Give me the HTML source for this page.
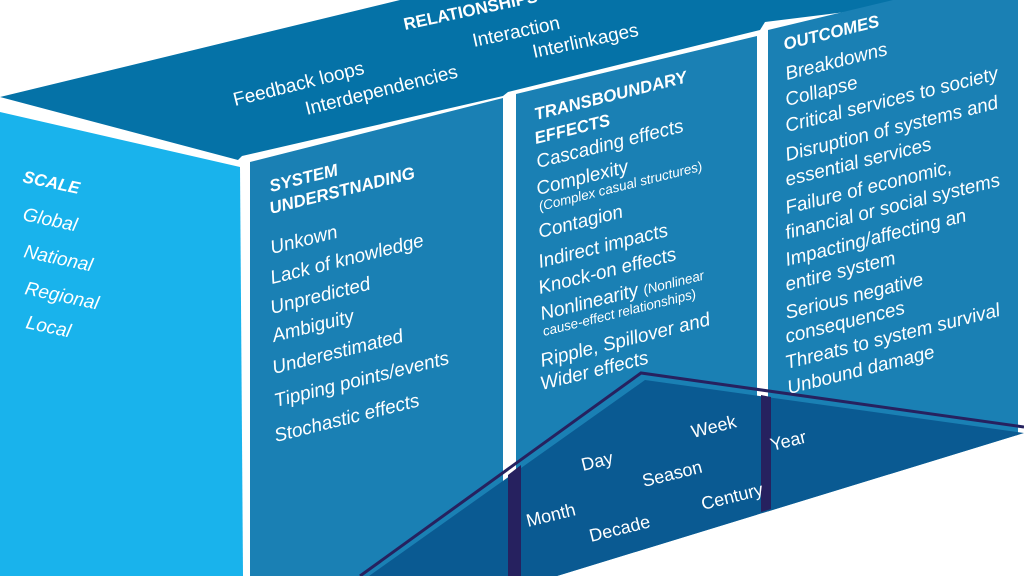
<!DOCTYPE html>
<html><head><meta charset="utf-8"><style>
html,body{margin:0;padding:0;background:#fff;width:1024px;height:576px;overflow:hidden}
svg{display:block}
text{font-family:"Liberation Sans",sans-serif;fill:#fff}
.i{font-size:19px;font-style:italic}
.s{font-size:13.5px;font-style:italic}
.b{font-size:17px;font-weight:bold;font-style:italic}
.t{font-size:17px;font-weight:bold}
.top{font-size:19px}
.tm{font-size:18px}
</style></head><body>
<svg width="1024" height="576" viewBox="0 0 1024 576">
<polygon points="0,97 400,0 1024,-60 1024,-10 765,22 760,30 508,92 503,96 242,156 238,160" fill="#0572a7"/>
<polygon points="0,112 240,167 243,576 0,576" fill="#19b3ec"/>
<polygon points="250,162 503,98 503,576 250,576" fill="#1a80b4"/>
<polygon points="516,94 757,36 757,576 516,576" fill="#1a80b4"/>
<polygon points="768,30 1018,-30 1018,576 768,576" fill="#1a80b4"/>
<polygon points="557,576 1024,433 1024,576" fill="#fff"/>
<polygon points="369,576 645,380 1024,433 557,576" fill="#0a5a92"/>
<polygon points="508,475 521,465 521,576 508,576" fill="#26215f"/>
<polygon points="761,395 771,397 771,509 761,512" fill="#26215f"/>
<polyline points="360,576 641,373 1024,427" fill="none" stroke="#26215f" stroke-width="3"/>

<text class="t" x="405" y="30" transform="rotate(-12 405 30)">RELATIONSHIPS</text>
<text class="top" x="474" y="47" transform="rotate(-12 474 47)">Interaction</text>
<text class="top" x="534" y="58" transform="rotate(-12 534 58)">Interlinkages</text>
<text class="top" x="235" y="106" transform="rotate(-14 235 106)">Feedback loops</text>
<text class="top" x="307" y="115" transform="rotate(-14 307 115)">Interdependencies</text>

<text class="b" x="22" y="182" transform="rotate(12 22 182)">SCALE</text>
<text class="i" x="22" y="220" transform="rotate(12 22 220)">Global</text>
<text class="i" x="23" y="257" transform="rotate(12 23 257)">National</text>
<text class="i" x="24" y="294" transform="rotate(12 24 294)">Regional</text>
<text class="i" x="25" y="328" transform="rotate(12 25 328)">Local</text>

<text class="b" x="271" y="192" transform="rotate(-14 271 192)">SYSTEM</text>
<text class="b" x="271" y="214" transform="rotate(-14 271 214)">UNDERSTNADING</text>
<text class="i" x="272" y="254" transform="rotate(-14 272 254)">Unkown</text>
<text class="i" x="272" y="284" transform="rotate(-14 272 284)">Lack of knowledge</text>
<text class="i" x="272" y="314" transform="rotate(-14 272 314)">Unpredicted</text>
<text class="i" x="274" y="342" transform="rotate(-14 274 342)">Ambiguity</text>
<text class="i" x="274" y="374" transform="rotate(-14 274 374)">Underestimated</text>
<text class="i" x="276" y="407" transform="rotate(-14 276 407)">Tipping points/events</text>
<text class="i" x="276" y="442" transform="rotate(-14 276 442)">Stochastic effects</text>

<text class="b" x="536" y="120" transform="rotate(-14 536 120)">TRANSBOUNDARY</text>
<text class="b" x="536" y="144" transform="rotate(-14 536 144)">EFFECTS</text>
<text class="i" x="538" y="168" transform="rotate(-14 538 168)">Cascading effects</text>
<text class="i" x="538" y="195" transform="rotate(-14 538 195)">Complexity</text>
<text class="s" x="540" y="211" transform="rotate(-14 540 211)">(Complex casual structures)</text>
<text class="i" x="540" y="238" transform="rotate(-14 540 238)">Contagion</text>
<text class="i" x="540" y="268" transform="rotate(-14 540 268)">Indirect impacts</text>
<text class="i" x="540" y="294" transform="rotate(-14 540 294)">Knock-on effects</text>
<text class="i" x="542" y="320" transform="rotate(-14 542 320)">Nonlinearity <tspan style="font-size:13.5px">(Nonlinear</tspan></text>
<text class="s" x="544" y="336" transform="rotate(-14 544 336)">cause-effect relationships)</text>
<text class="i" x="542" y="367" transform="rotate(-14 542 367)">Ripple, Spillover and</text>
<text class="i" x="542" y="390" transform="rotate(-14 542 390)">Wider effects</text>

<text class="b" x="785" y="50" transform="rotate(-14 785 50)">OUTCOMES</text>
<text class="i" x="787" y="80" transform="rotate(-14 787 80)">Breakdowns</text>
<text class="i" x="787" y="106" transform="rotate(-14 787 106)">Collapse</text>
<text class="i" x="787" y="132" transform="rotate(-14 787 132)">Critical services to society</text>
<text class="i" x="787" y="161" transform="rotate(-14 787 161)">Disruption of systems and</text>
<text class="i" x="787" y="186" transform="rotate(-14 787 186)">essential services</text>
<text class="i" x="787" y="214" transform="rotate(-14 787 214)">Failure of economic,</text>
<text class="i" x="787" y="239" transform="rotate(-14 787 239)">financial or social systems</text>
<text class="i" x="787" y="266" transform="rotate(-14 787 266)">Impacting/affecting an</text>
<text class="i" x="787" y="291" transform="rotate(-14 787 291)">entire system</text>
<text class="i" x="787" y="319" transform="rotate(-14 787 319)">Serious negative</text>
<text class="i" x="787" y="343" transform="rotate(-14 787 343)">consequences</text>
<text class="i" x="787" y="369" transform="rotate(-14 787 369)">Threats to system survival</text>
<text class="i" x="789" y="394" transform="rotate(-14 789 394)">Unbound damage</text>

<text class="tm" x="693" y="438" transform="rotate(-14 693 438)">Week</text>
<text class="tm" x="583" y="471" transform="rotate(-14 583 471)">Day</text>
<text class="tm" x="644" y="487" transform="rotate(-14 644 487)">Season</text>
<text class="tm" x="772" y="451" transform="rotate(-14 772 451)">Year</text>
<text class="tm" x="528" y="527" transform="rotate(-14 528 527)">Month</text>
<text class="tm" x="703" y="510" transform="rotate(-14 703 510)">Century</text>
<text class="tm" x="591" y="542" transform="rotate(-14 591 542)">Decade</text>
</svg>
</body></html>
